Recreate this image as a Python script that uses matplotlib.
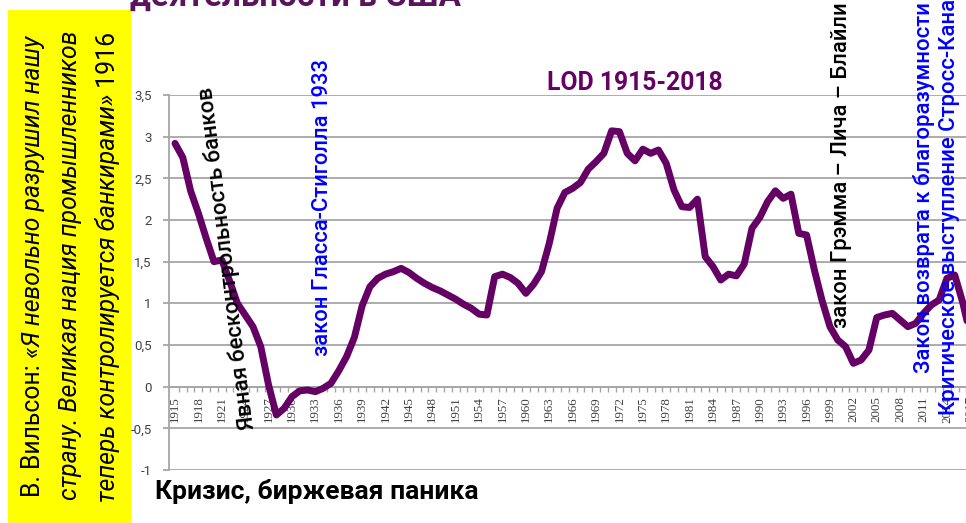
import matplotlib
matplotlib.use("Agg")
import matplotlib.pyplot as plt
from matplotlib.patches import Rectangle

# LOD index, one value per year 1915..2018
years = list(range(1915, 2019))
lod = [
    2.92, 2.75, 2.35, 2.08, 1.78, 1.50, 1.52, 1.27, 1.00, 0.86,   # 1915-1924
    0.72, 0.48, 0.02, -0.34, -0.26, -0.12, -0.05, -0.04, -0.06, -0.02,  # 1925-1934
    0.04, 0.19, 0.36, 0.59, 0.97, 1.20, 1.30, 1.35, 1.38, 1.42,   # 1935-1944
    1.37, 1.30, 1.24, 1.19, 1.15, 1.10, 1.05, 0.99, 0.94, 0.87,   # 1945-1954
    0.86, 1.32, 1.35, 1.31, 1.24, 1.12, 1.23, 1.38, 1.72, 2.14,   # 1955-1964
    2.33, 2.38, 2.45, 2.61, 2.70, 2.80, 3.07, 3.06, 2.80, 2.71,   # 1965-1974
    2.85, 2.80, 2.84, 2.68, 2.36, 2.16, 2.15, 2.25, 1.56, 1.44,   # 1975-1984
    1.28, 1.35, 1.33, 1.47, 1.90, 2.03, 2.22, 2.35, 2.26, 2.31,   # 1985-1994
    1.84, 1.82, 1.40, 1.03, 0.72, 0.56, 0.48, 0.28, 0.32, 0.44,   # 1995-2004
    0.83, 0.86, 0.88, 0.80, 0.72, 0.76, 0.88, 0.98, 1.04, 1.30,   # 2005-2014
    1.34, 1.02, 0.62, 0.45,                                       # 2015-2018
]
y_ticks = [-1, -0.5, 0, 0.5, 1, 1.5, 2, 2.5, 3, 3.5]
y_labels = ["-1", "-0,5", "0", "0,5", "1", "1,5", "2", "2,5", "3", "3,5"]
label_years = years[::3]

title = "деятельности в США"
series_name = "LOD 1915-2018"
bottom_note = "Кризис, биржевая паника"
wilson = [
    [("В. Вильсон:", "normal"), (" «Я невольно разрушил нашу", "italic")],
    [("страну. Великая нация промышленников", "italic")],
    [("теперь контролируется банкирами»", "italic"), (" 1916", "normal")],
]

W, H = 966, 523
PURPLE = "#650065"
GRID = "#a6a6a6"
SANS = "Roboto"

fig = plt.figure(figsize=(W / 100, H / 100), dpi=100)
renderer = fig.canvas.get_renderer()


def px(x, y):
    """Pixel position (from top-left) to figure fraction."""
    return x / W, 1 - y / H


def text_width(s, size=20, **kw):
    t = fig.text(0, 0, s, fontsize=size, **kw)
    w = t.get_window_extent(renderer).width
    t.remove()
    return w


def fit(s, length, **kw):
    """Font size that makes ``s`` about ``length`` pixels long."""
    return 20 * length / text_width(s, 20, **kw)


# plot area runs past the right edge of the picture, like the cropped slide
left, right, top, bottom = 169, 982, 95, 470
ax = fig.add_axes([left / W, 1 - bottom / H, (right - left) / W, (bottom - top) / H])
x = list(range(len(years)))
ax.plot(x, lod, color=PURPLE, linewidth=5.0, solid_joinstyle="round",
        solid_capstyle="round", zorder=3)
ax.set_xlim(-0.77, len(years) - 0.5)
ax.set_ylim(-1, 3.5)

for s in ["top", "right"]:
    ax.spines[s].set_visible(False)
ax.spines["left"].set_color(GRID)
ax.spines["left"].set_linewidth(1.3)
ax.spines["bottom"].set_position(("data", 0))
ax.spines["bottom"].set_color(GRID)
ax.spines["bottom"].set_linewidth(1.3)

ax.set_yticks(y_ticks)
ax.set_yticklabels(y_labels, fontsize=9.5, color="#404040", family=SANS)
ax.yaxis.grid(True, color=GRID, linewidth=1.3)
ax.tick_params(axis="y", length=4.5, color=GRID, width=1.3, pad=8)

year_size = fit("1915", 26, family="Liberation Serif")
ax.set_xticks([years.index(yr) for yr in label_years])
ax.set_xticklabels([str(yr) for yr in label_years], rotation=90, fontsize=year_size,
                   family="Liberation Serif", color="#404040")
ax.set_xticks([i + 0.5 for i in x[:-1]], minor=True)
ax.tick_params(axis="x", which="major", length=0, pad=7)
ax.tick_params(axis="x", which="minor", length=3.5, color=GRID, width=1.0)
ax.set_axisbelow(True)

# yellow quote box on the left
fig.patches.append(Rectangle(px(8, 523), 123 / W, 513 / H, transform=fig.transFigure,
                             facecolor="#ffff00", edgecolor="none", zorder=0))

fs_w = 20 * 469 / sum(text_width(s, 20, family=SANS, fontstyle=st) for s, st in wilson[2])
for (cx, y0), pieces in zip([(31, 497), (68, 500), (106, 502)], wilson):
    y = y0
    for s, st in pieces:
        bx, by = px(cx + 0.36 * fs_w * 100 / 72, y)
        t = fig.text(bx, by, s, fontsize=fs_w, family=SANS, fontstyle=st, rotation=90,
                     rotation_mode="anchor", ha="left", va="baseline")
        y -= t.get_window_extent(renderer).height

# title, cut off at the top edge
fig.text(*px(130, 6), title, fontsize=fit(title, 330, family=SANS, weight="bold"),
         family=SANS, weight="bold", color="#5a135c", ha="left", va="baseline")

fig.text(*px(635, 83), series_name, fontsize=fit(series_name, 176, family=SANS, weight="bold"),
         family=SANS, weight="bold", color=PURPLE, ha="center", va="center")

fig.text(*px(155, 491), bottom_note, fontsize=fit(bottom_note, 322, family=SANS, weight="bold"),
         family=SANS, weight="bold", color="black", ha="left", va="center")

# rotated event labels: text, centre (px), length (px), angle, colour
events = [
    ("Явная бесконтрольность банков", (227, 258), 345, 97, "black"),
    ("закон Гласса-Стиголла 1933", (322, 208), 297, 90, "#0000ff"),
    ("закон Грэмма – Лича – Блайли", (842, 165), 326, 90, "black"),
]
for s, (cx, cy), length, rot, col in events:
    fig.text(*px(cx, cy), s, fontsize=fit(s, length, family=SANS, weight="medium"),
             family=SANS, weight="medium", color=col, rotation=rot,
             rotation_mode="anchor", ha="center", va="center")

fs_r = fit("Закон возврата к благоразумности", 370, family=SANS, weight="medium")
for s, (cx, yb) in [("Закон возврата к благоразумности", (924, 373)),
                    ("Критическое выступление Стросс-Кана", (950, 415))]:
    fig.text(*px(cx, yb), s, fontsize=fs_r, family=SANS, weight="medium", color="#0000ff",
             rotation=90, rotation_mode="anchor", ha="left", va="center")

fig.savefig("out.png", dpi=100)
